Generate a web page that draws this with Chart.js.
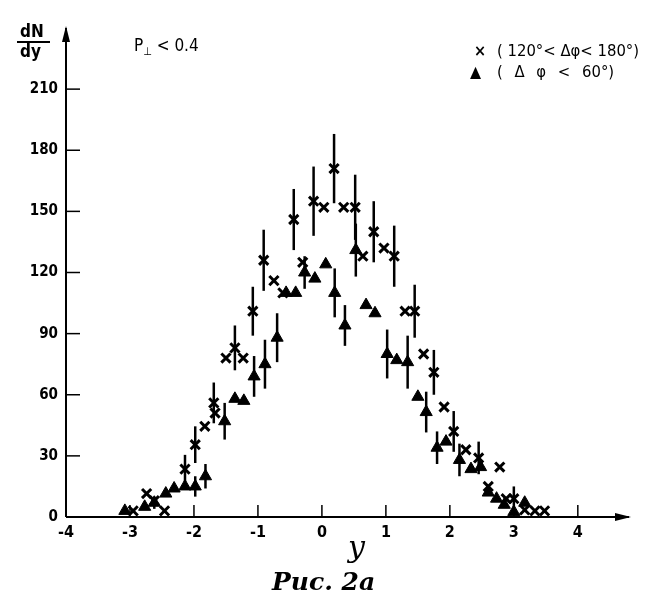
<!DOCTYPE html>
<html>
<head>
<meta charset="utf-8">
<script src="https://cdn.jsdelivr.net/npm/chart.js@4/dist/chart.umd.min.js"></script>
<style>
  html, body { margin: 0; padding: 0; background: #fff; }
  #wrap { position: relative; width: 647px; height: 597px; }
  canvas { position: absolute; left: 0; top: 0; }
  .t { position: absolute; color: #000; font-family: "DejaVu Sans Condensed", "DejaVu Sans", sans-serif; white-space: pre; line-height: 1; }
</style>
</head>
<body>
<div id="wrap">
  <canvas id="c" width="647" height="597"></canvas>
  <div class="t" style="left:20px;top:23px;font-size:17px;font-weight:bold;">dN</div>
  <div style="position:absolute;left:17px;top:41px;width:33px;height:2px;background:#000;"></div>
  <div class="t" style="left:20px;top:43px;font-size:17px;font-weight:bold;">dy</div>
  <div class="t" style="left:134px;top:37px;font-size:17px;">P<sub style="font-size:11px;">⊥</sub> &lt; 0.4</div>
  <div class="t" style="left:474px;top:43px;font-size:16px;font-weight:bold;">×</div>
  <div class="t" style="left:497px;top:43px;font-size:16.5px;">( 120°&lt; Δφ&lt; 180°)</div>
  <div class="t" style="left:470px;top:64px;font-size:16px;">▲</div>
  <div class="t" style="left:497px;top:64px;font-size:16.5px;word-spacing:7px;">( Δ φ &lt; 60°)</div>
  <div class="t" style="left:348px;top:532px;font-size:30px;font-style:italic;font-family:'DejaVu Serif',serif;">y</div>
  <div class="t" style="left:272px;top:569px;font-size:25px;font-style:italic;font-weight:bold;font-family:'DejaVu Serif',serif;">Рис. 2a</div>
</div>
<script>
// ---- data ----
const xTickValues = [-4, -3, -2, -1, 0, 1, 2, 3, 4];
const yTickValues = [0, 30, 60, 90, 120, 150, 180, 210];

// series 1: crosses (120° < Δφ < 180°)
const crossX   = [-2.95, -2.74, -2.62, -2.46, -2.14, -1.98, -1.83, -1.69, -1.67, -1.50, -1.36, -1.23, -1.08, -0.91, -0.75, -0.61, -0.44, -0.30, -0.13, 0.03, 0.19, 0.34, 0.52, 0.64, 0.81, 0.97, 1.13, 1.30, 1.45, 1.59, 1.75, 1.91, 2.06, 2.25, 2.45, 2.60, 2.78, 2.88, 3.00, 3.17, 3.33, 3.48];
const crossY   = [3, 11.5, 8, 3, 23.5, 35.5, 44.5, 56, 51, 78, 83, 78, 101, 126, 116, 110, 146, 125, 155, 152, 171, 152, 152, 128, 140, 132, 128, 101, 101, 80, 71, 54, 42, 33, 29, 15, 24.5, 9, 9, 3.5, 3, 3];
const crossErr = [0, 0, 0, 0, 7, 9, 0, 10, 0, 0, 11, 0, 12, 15, 0, 0, 15, 0, 17, 0, 17, 0, 16, 0, 15, 0, 15, 0, 13, 0, 11, 0, 10, 0, 8, 0, 0, 0, 6, 0, 0, 0];

// series 2: triangles (Δφ < 60°)
const triX   = [-3.08, -2.77, -2.62, -2.44, -2.31, -2.14, -1.98, -1.82, -1.52, -1.36, -1.22, -1.06, -0.89, -0.70, -0.56, -0.41, -0.27, -0.11, 0.06, 0.20, 0.36, 0.53, 0.69, 0.83, 1.02, 1.17, 1.34, 1.50, 1.63, 1.80, 1.94, 2.15, 2.33, 2.48, 2.60, 2.73, 2.85, 3.00, 3.17];
const triY   = [3, 5, 7, 11.5, 14, 15, 15, 20, 47, 58, 57, 69, 75, 88, 110, 110, 120, 117, 124, 110, 94, 131, 104, 100, 80, 77, 76, 59, 51.5, 34, 37, 28, 23.5, 24.5, 12, 9, 6, 2.5, 7];
const triErr = [0, 0, 3, 0, 0, 0, 5, 6, 9, 0, 0, 10, 12, 12, 0, 0, 8, 0, 0, 12, 10, 13, 0, 0, 12, 0, 13, 0, 10, 8, 0, 8, 0, 0, 0, 0, 0, 0, 0];

const toPts = (xs, ys) => xs.map((x, i) => ({ x: x, y: ys[i] }));
const errs = [crossErr, triErr];

const axisPlugin = {
  id: 'axisDeco',
  afterDatasetsDraw(chart) {
    const ctx = chart.ctx;
    const xs = chart.scales.x, ys = chart.scales.y;
    const a = chart.chartArea;
    ctx.save();
    ctx.strokeStyle = '#000';
    ctx.fillStyle = '#000';
    // error bars
    ctx.lineWidth = 2.5;
    chart.data.datasets.forEach((ds, di) => {
      ds.data.forEach((p, j) => {
        const e = errs[di][j];
        if (!e) return;
        const px = xs.getPixelForValue(p.x);
        ctx.beginPath();
        ctx.moveTo(px, ys.getPixelForValue(p.y - e));
        ctx.lineTo(px, ys.getPixelForValue(p.y + e));
        ctx.stroke();
      });
    });
    // axes
    ctx.lineWidth = 2;
    const x0 = xs.getPixelForValue(-4), y0 = ys.getPixelForValue(0);
    ctx.beginPath();
    ctx.moveTo(x0, y0); ctx.lineTo(a.right, y0);
    ctx.moveTo(x0, y0); ctx.lineTo(x0, a.top);
    ctx.stroke();
    // arrow heads
    ctx.beginPath();
    ctx.moveTo(a.right + 2, y0); ctx.lineTo(a.right - 14, y0 - 4); ctx.lineTo(a.right - 14, y0 + 4); ctx.closePath(); ctx.fill();
    ctx.beginPath();
    ctx.moveTo(x0, a.top - 2); ctx.lineTo(x0 - 4, a.top + 14); ctx.lineTo(x0 + 4, a.top + 14); ctx.closePath(); ctx.fill();
    // inner tick marks
    ctx.lineWidth = 1.5;
    xTickValues.forEach(v => {
      if (v === -4) return;
      const px = xs.getPixelForValue(v);
      ctx.beginPath(); ctx.moveTo(px, y0); ctx.lineTo(px, y0 - 12); ctx.stroke();
    });
    yTickValues.forEach(v => {
      if (v === 0) return;
      const py = ys.getPixelForValue(v);
      ctx.beginPath(); ctx.moveTo(x0, py); ctx.lineTo(x0 + 14, py); ctx.stroke();
    });
    ctx.restore();
  }
};

new Chart(document.getElementById('c'), {
  type: 'scatter',
  data: {
    datasets: [
      {
        label: '(120°< Δφ< 180°)',
        data: toPts(crossX, crossY),
        pointStyle: 'crossRot',
        pointRadius: 6.5,
        pointBorderWidth: 3,
        borderColor: '#000',
        backgroundColor: '#000'
      },
      {
        label: '(Δφ < 60°)',
        data: toPts(triX, triY),
        pointStyle: 'triangle',
        pointRadius: 7,
        pointBorderWidth: 1,
        borderColor: '#000',
        backgroundColor: '#000'
      }
    ]
  },
  options: {
    responsive: false,
    animation: false,
    events: [],
    layout: { padding: { left: 0, right: 18, top: 28, bottom: 0 } },
    plugins: { legend: { display: false }, tooltip: { enabled: false }, title: { display: false } },
    scales: {
      x: {
        type: 'linear', min: -4, max: 4.8,
        grid: { display: false, drawTicks: false },
        border: { display: false },
        afterBuildTicks: s => { s.ticks = xTickValues.map(v => ({ value: v })); },
        afterFit: s => { s.height = 80; },
        ticks: {
          padding: 6, color: '#000', maxRotation: 0, autoSkip: false,
          font: { family: '"DejaVu Sans Condensed", "DejaVu Sans", sans-serif', size: 16, weight: 'bold' }
        }
      },
      y: {
        type: 'linear', min: 0, max: 240,
        grid: { display: false, drawTicks: false },
        border: { display: false },
        afterBuildTicks: s => { s.ticks = yTickValues.map(v => ({ value: v })); },
        afterFit: s => { s.width = 66; },
        ticks: {
          padding: 8, color: '#000', autoSkip: false,
          font: { family: '"DejaVu Sans Condensed", "DejaVu Sans", sans-serif', size: 15, weight: 'bold' }
        }
      }
    }
  },
  plugins: [axisPlugin]
});
</script>
</body>
</html>
